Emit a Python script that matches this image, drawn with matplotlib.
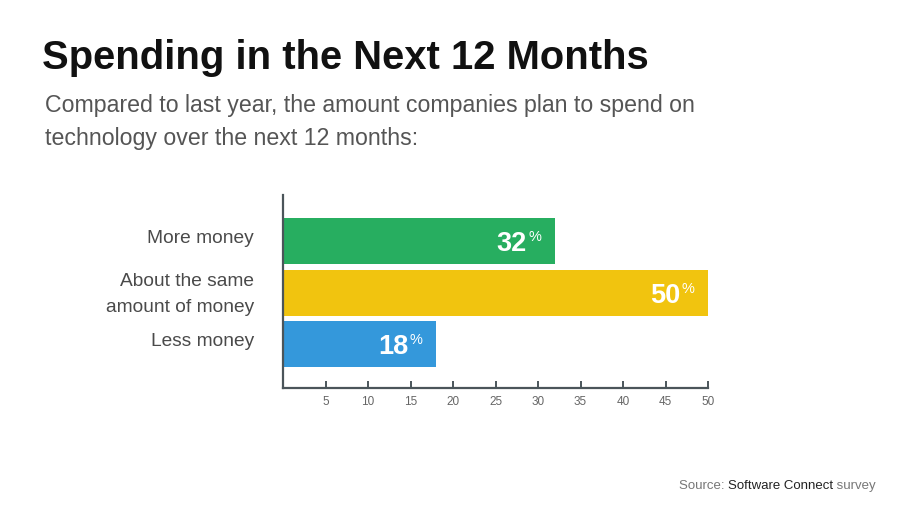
import matplotlib
matplotlib.use("Agg")
import matplotlib.pyplot as plt
import matplotlib.transforms as mtrans

plt.rcParams['font.family'] = ['Liberation Sans', 'DejaVu Sans']

categories = ["More money", "About the same\namount of money", "Less money"]
values = [32, 50, 18]
colors = ["#27ae60", "#f1c40f", "#3498db"]
xticks = [5, 10, 15, 20, 25, 30, 35, 40, 45, 50]

title = "Spending in the Next 12 Months"
subtitle = ["Compared to last year, the amount companies plan to spend on",
            "technology over the next 12 months:"]

axis_col = "#4b555a"

fig = plt.figure(figsize=(9, 5.2), dpi=100)
fig.patch.set_facecolor("white")

ax = fig.add_axes([283 / 900, 1 - 388 / 520, 425 / 900, 193 / 520])
ypos = list(range(len(categories)))
ax.barh(ypos, values, height=0.89, color=colors)
ax.set_xlim(0, 50)
ax.set_ylim(2.845, -0.893)

for s in ["top", "right"]:
    ax.spines[s].set_visible(False)
for s in ["left", "bottom"]:
    ax.spines[s].set_color(axis_col)
    ax.spines[s].set_linewidth(1.6)

ax.set_xticks(xticks)
ax.set_xticklabels([str(t) for t in xticks])
ax.tick_params(axis="x", direction="in", length=5, width=1.4, color=axis_col,
               labelsize=8.5, labelcolor="#666666", pad=6)
ax.set_yticks(ypos)
ax.set_yticklabels(categories, fontsize=13.8, color="#4a4a4a", linespacing=1.65)
ax.tick_params(axis="y", length=0, pad=21)
# labels sit a little above the bar centres in the original
shift = mtrans.ScaledTranslation(0, 4.5 / 100, fig.dpi_scale_trans)
for lbl in ax.get_yticklabels():
    lbl.set_transform(lbl.get_transform() + shift)

for i, v in enumerate(values):
    ax.annotate(str(v), xy=(v, i), xytext=(-28, -3), textcoords="offset pixels",
                ha="right", va="center", color="white", fontsize=19.5, fontweight="bold")
    ax.annotate("%", xy=(v, i), xytext=(-14, 4), textcoords="offset pixels",
                ha="right", va="center", color="white", fontsize=10.5)

fig.text(42 / 900, 1 - 69 / 520, title, fontsize=28.8, fontweight="bold",
         color="#111111", ha="left", va="baseline")
for k, line in enumerate(subtitle):
    fig.text(45 / 900, 1 - (112 + 33 * k) / 520, line, fontsize=16.7, color="#555555",
             ha="left", va="baseline")

# source line, built right to left
t3 = fig.text(876 / 900, 1 - 489 / 520, " survey", fontsize=9.5, color="#777777",
              ha="right", va="baseline")
t2 = fig.text(0, 0, "Software Connect", fontsize=9.5, color="#222222")
t1 = fig.text(0, 0, "Source: ", fontsize=9.5, color="#777777")
fig.canvas.draw()
r = fig.canvas.get_renderer()
x3 = t3.get_window_extent(r).x0
t2.set_position((x3 / fig.bbox.width, 1 - 489 / 520))
t2.set_ha("right")
t2.set_va("baseline")
fig.canvas.draw()
x2 = t2.get_window_extent(r).x0
t1.set_position((x2 / fig.bbox.width, 1 - 489 / 520))
t1.set_ha("right")
t1.set_va("baseline")

fig.savefig("out.png", dpi=100)
